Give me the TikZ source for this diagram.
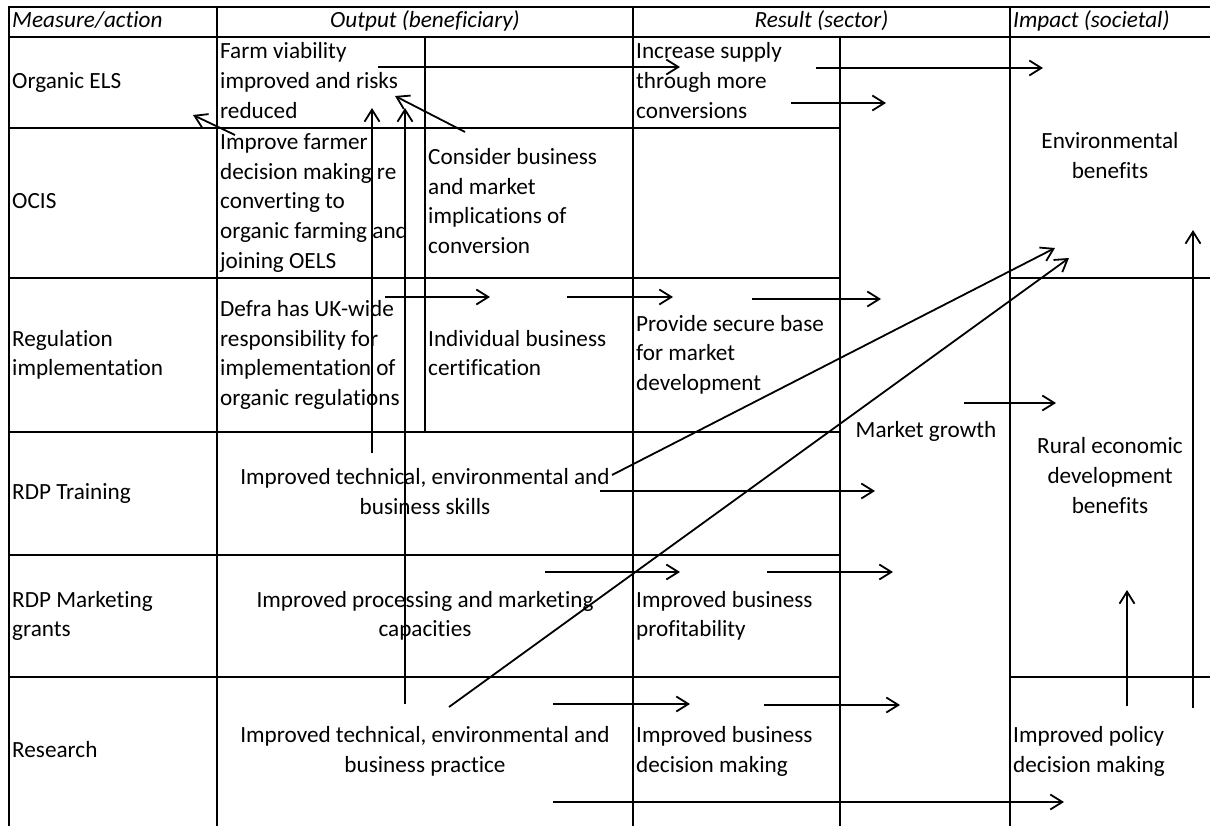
\documentclass[tikz,border=0pt]{standalone}
\usepackage{fontspec}
\setmainfont{Carlito}[Ligatures=NoCommon]
\usetikzlibrary{arrows.meta}

\begin{document}
\begin{tikzpicture}[x=1pt,y=-1pt,
  grid/.style={line width=2.6pt, line cap=rect},
  conn/.style={line width=1.8pt, -{Straight Barb[length=12pt,width=15pt]}},
  txt/.style={inner sep=0pt, font=\fontsize{23.2}{29.7}\selectfont},
  lcell/.style={txt, anchor=west, align=left},
  ccell/.style={txt, anchor=center, align=center},
  head/.style={inner sep=0pt, font=\fontsize{23.2}{29.7}\selectfont\itshape},
]
\useasboundingbox (0,0) rectangle (1210,826);

% ---- table rules ----
% horizontal
\draw[grid] (9,7) -- (1212,7);
\draw[grid] (9,37) -- (1212,37);
\draw[grid] (9,128) -- (840,128);
\draw[grid] (9,278) -- (840,278);
\draw[grid] (1010,278) -- (1212,278);
\draw[grid] (9,432) -- (840,432);
\draw[grid] (9,555) -- (840,555);
\draw[grid] (9,677) -- (840,677);
\draw[grid] (1010,677) -- (1212,677);
% vertical
\draw[grid] (9,7) -- (9,830);
\draw[grid] (217,7) -- (217,830);
\draw[grid] (425,37) -- (425,432);
\draw[grid] (633,7) -- (633,830);
\draw[grid] (840,37) -- (840,830);
\draw[grid] (1010,7) -- (1010,830);

% ---- column headings ----
\node[head, anchor=west] (hMeasure) at (12,22) {\strut Measure/action};
\node[head] (hOutput) at (425,22) {\strut Output (beneficiary)};
\node[head] (hResult) at (821.5,22) {\strut Result (sector)};
\node[head, anchor=west] (hImpact) at (1013,22) {\strut Impact (societal)};

% ---- measures ----
\node[lcell] (mOELS) at (12,82.5) {\strut Organic ELS};
\node[lcell] (mOCIS) at (12,203) {\strut OCIS};
\node[lcell] (mReg) at (12,355) {\strut Regulation\\\strut implementation};
\node[lcell] (mTrain) at (12,493.5) {\strut RDP Training};
\node[lcell] (mMkt) at (12,616) {\strut RDP Marketing\\\strut grants};
\node[lcell] (mRes) at (12,751.5) {\strut Research};

% ---- outputs ----
\node[lcell] (oFarm) at (220,82.5) {\strut Farm viability\\\strut improved and risks\\\strut reduced};
\node[lcell] (oImprove) at (220,203) {\strut Improve farmer\\\strut decision making re\\\strut converting to\\\strut organic farming and\\\strut joining OELS};
\node[lcell] (oConsider) at (428,203) {\strut Consider business\\\strut and market\\\strut implications of\\\strut conversion};
\node[lcell] (oDefra) at (220,355) {\strut Defra has UK-wide\\\strut responsibility for\\\strut implementation of\\\strut organic regulations};
\node[lcell] (oIndiv) at (428,355) {\strut Individual business\\\strut certification};
\node[ccell] (oSkills) at (425,493.5) {\strut Improved technical, environmental and\\\strut business skills};
\node[ccell] (oProc) at (425,616) {\strut Improved processing and marketing\\\strut capacities};
\node[ccell] (oPractice) at (425,751.5) {\strut Improved technical, environmental and\\\strut business practice};

% ---- results ----
\node[lcell] (rSupply) at (636,82.5) {\strut Increase supply\\\strut through more\\\strut conversions};
\node[lcell] (rBase) at (636,355) {\strut Provide secure base\\\strut for market\\\strut development};
\node[lcell] (rProfit) at (636,616) {\strut Improved business\\\strut profitability};
\node[lcell] (rDecision) at (636,751.5) {\strut Improved business\\\strut decision making};
\node[ccell] (rGrowth) at (926,431.5) {\strut Market growth};

% ---- impacts ----
\node[ccell] (iEnv) at (1110,157.5) {\strut Environmental\\\strut benefits};
\node[ccell] (iRural) at (1110,477.5) {\strut Rural economic\\\strut development\\\strut benefits};
\node[lcell] (iPolicy) at (1013,751.5) {\strut Improved policy\\\strut decision making};

% ---- arrow end points ----
\coordinate (a1s) at (378,67);   \coordinate (a1e) at (680,67);
\coordinate (a2s) at (816,68);   \coordinate (a2e) at (1043,68);
\coordinate (a3s) at (791,103);  \coordinate (a3e) at (886,103);
\coordinate (a4s) at (235,135);  \coordinate (a4e) at (193,115);
\coordinate (a5s) at (372,453);  \coordinate (a5e) at (372,108);
\coordinate (a6s) at (405,704);  \coordinate (a6e) at (405,108);
\coordinate (a7s) at (465,132);  \coordinate (a7e) at (395,96);
\coordinate (a8s) at (385,297);  \coordinate (a8e) at (490,297);
\coordinate (a9s) at (567,297);  \coordinate (a9e) at (673,297);
\coordinate (a10s) at (752,299); \coordinate (a10e) at (881,299);
\coordinate (a11s) at (964,403); \coordinate (a11e) at (1056,403);
\coordinate (a12s) at (612,475); \coordinate (a12e) at (1055,248);
\coordinate (a13s) at (600,491); \coordinate (a13e) at (875,491);
\coordinate (a14s) at (449,707); \coordinate (a14e) at (1069,258);
\coordinate (a15s) at (545,572); \coordinate (a15e) at (680,572);
\coordinate (a16s) at (767,572); \coordinate (a16e) at (893,572);
\coordinate (a17s) at (553,704); \coordinate (a17e) at (690,704);
\coordinate (a18s) at (764,705); \coordinate (a18e) at (900,705);
\coordinate (a19s) at (553,802); \coordinate (a19e) at (1064,802);
\coordinate (a20s) at (1127,706); \coordinate (a20e) at (1127,590);
\coordinate (a21s) at (1193,708); \coordinate (a21e) at (1193,230);

% ---- causal links ----
\foreach \k in {1,...,21}
  \draw[conn] (a\k s) -- (a\k e);

\end{tikzpicture}
\end{document}
